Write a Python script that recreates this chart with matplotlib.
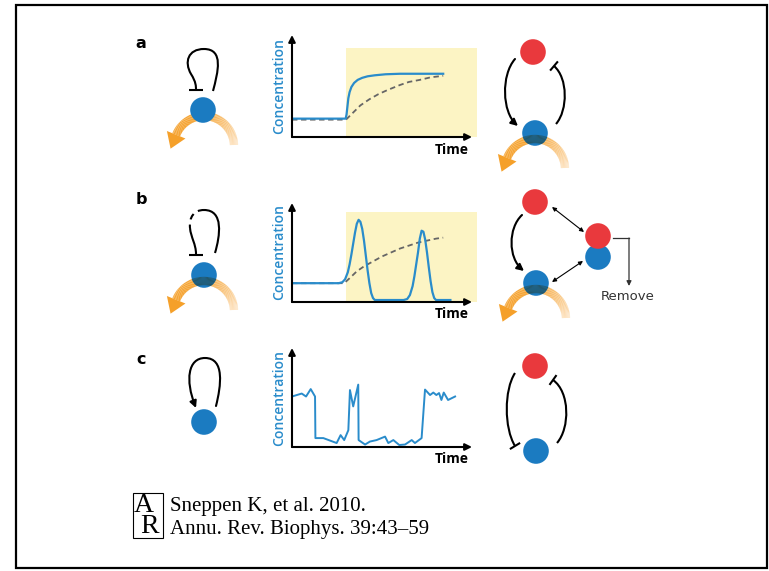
import numpy as np
import matplotlib.pyplot as plt
from matplotlib.patches import Circle, Rectangle, PathPatch, FancyArrowPatch, Polygon
from matplotlib.path import Path
from matplotlib.collections import LineCollection
from matplotlib.colors import to_rgb

W, H = 769, 571

# ---- chart data (time, concentration) ----
# panel a: step response, solid = with negative feedback, dashed = without
a_t = [0, 2.98, 3.03, 3.08, 3.13, 3.2, 3.3, 3.45, 3.65, 3.9, 4.2, 4.6, 5.2, 6.0, 8.4]
a_c = [1.8, 1.8, 2.2, 3.0, 3.8, 4.4, 4.9, 5.3, 5.6, 5.8, 5.95, 6.05, 6.15, 6.2, 6.2]
a_dash_t = [0, 3.0, 3.4, 3.8, 4.3, 4.8, 5.3, 6.0, 6.5, 7.1, 7.7, 8.4]
a_dash_c = [1.7, 1.7, 2.4, 3.1, 3.7, 4.2, 4.6, 5.1, 5.4, 5.6, 5.85, 6.0]

# panel b: pulses
b_t = [0, 2.6, 2.8, 2.95, 3.1, 3.2, 3.3, 3.4, 3.5, 3.6, 3.7, 3.8, 3.9, 4.0, 4.1, 4.2, 4.3, 4.4, 4.5, 4.6,
       6.2, 6.4, 6.55, 6.7, 6.8, 6.9, 7.0, 7.1, 7.2, 7.3, 7.4, 7.5, 7.6, 7.7, 7.8, 7.9, 8.0, 8.8]
b_c = [1.9, 1.9, 2.0, 2.3, 3.0, 3.8, 4.8, 5.9, 7.0, 7.9, 8.3, 8.1, 7.4, 6.2, 4.7, 3.2, 1.9, 0.9, 0.4, 0.2,
       0.2, 0.3, 0.7, 1.6, 2.6, 3.8, 5.0, 6.4, 7.2, 7.1, 6.3, 5.0, 3.5, 2.1, 1.0, 0.4, 0.2, 0.2]
b_dash_t = [0, 2.9, 3.2, 3.6, 4.0, 4.5, 5.0, 5.5, 6.0, 6.5, 7.0, 7.5, 8.0, 8.4]
b_dash_c = [1.9, 1.9, 2.4, 3.1, 3.6, 4.1, 4.6, 5.0, 5.4, 5.7, 6.0, 6.2, 6.4, 6.5]

# panel c: bistable switching
c_t = [0.0, 0.54, 0.78, 1.04, 1.28, 1.3, 1.74, 2.48, 2.7, 2.9, 3.13, 3.22, 3.4, 3.68, 3.7, 4.06, 4.33,
       4.7, 5.17, 5.35, 5.63, 5.96, 6.28, 6.65, 6.83, 7.2, 7.39, 7.67, 7.85, 8.02, 8.17, 8.3, 8.43, 8.67, 9.06]
c_c = [5.1, 5.4, 5.1, 5.85, 5.1, 0.9, 0.9, 0.4, 1.2, 0.7, 1.7, 5.75, 4.1, 6.3, 0.7, 0.25, 0.55,
       0.7, 1.05, 0.4, 0.7, 0.2, 0.25, 0.7, 0.4, 0.9, 5.8, 5.25, 5.5, 5.25, 5.45, 4.75, 5.5, 4.75, 5.1]

shade_start, shade_end = 3.0, 10.3
shade_top = {'a': 8.7, 'b': 9.1}

panel_letters = ['a', 'b', 'c']
ylabel = 'Concentration'
xlabel = 'Time'
citation = ['Sneppen K, et al. 2010.', 'Annu. Rev. Biophys. 39:43\u201359']

BLUE = '#1b7bc1'
RED = '#e9393d'
ORANGE = '#f5a02a'
PALE = '#fde4c4'
DARK = '#23586b'
LBLUE = '#2a8ccb'
YELLOW = '#fcf4c4'

fig = plt.figure(figsize=(W / 100, H / 100), dpi=100)
ax0 = fig.add_axes([0, 0, 1, 1])
ax0.set_xlim(0, W)
ax0.set_ylim(H, 0)
ax0.axis('off')

ax0.add_patch(Rectangle((16, 5), 751, 563, fill=False, lw=1.6, ec='k'))


def bez(*pts):
    codes = [Path.MOVETO] + [Path.CURVE4] * (len(pts) - 1)
    return Path(pts, codes)


def node(x, y, col, r=12.8, z=2):
    c = Circle((x, y), r, fc=col, ec='none', zorder=z)
    ax0.add_patch(c)
    return c


def orange_arc(cx, cy, circle=None, r=30):
    th = np.radians(np.linspace(158, 2, 80))
    x = cx + r * np.cos(th)
    y = cy - r * np.sin(th)
    pts = np.column_stack([x, y])
    segs = np.stack([pts[:-1], pts[1:]], axis=1)
    frac = np.clip((95 - np.degrees(th[:-1])) / 93, 0, 1)
    c0, c1 = np.array(to_rgb(ORANGE)), np.array(to_rgb(PALE))
    cols = c0 + (c1 - c0) * frac[:, None]
    ax0.add_collection(LineCollection(segs, colors=cols, linewidths=6, capstyle='butt', zorder=1))
    d = np.array([-np.sin(th[0]), -np.cos(th[0])])
    n = np.array([d[1], -d[0]])
    p = pts[0]
    ax0.add_patch(Polygon([p + d * 15, p + n * 10, p - n * 10], closed=True, fc=ORANGE, ec='none', zorder=1))
    if circle is not None:
        lc = LineCollection(segs, colors=DARK, linewidths=6, capstyle='butt', zorder=3)
        lc.set_clip_path(circle)
        ax0.add_collection(lc)


def line_path(path, ls='-', lw=1.5):
    ax0.add_patch(PathPatch(path, fill=False, lw=lw, ec='k', ls=ls, zorder=4))


def arrow_path(path, lw=1.5, ms=10):
    ax0.add_patch(FancyArrowPatch(path=path, arrowstyle='-|>', mutation_scale=ms, lw=lw,
                                  color='k', zorder=4))


def bar(p, q, lw=1.5):
    ax0.plot([p[0], q[0]], [p[1], q[1]], color='k', lw=lw, solid_capstyle='butt', zorder=4)


# ---- left diagrams ----
orange_arc(204, 146)
node(203, 110, BLUE)
line_path(bez((213, 91), (218, 72), (224, 49), (204, 49), (188, 49), (184, 62), (191, 74),
              (196, 82), (196, 86), (196, 90)))
bar((189, 90), (203, 90))

cb = node(204, 275, BLUE)
orange_arc(204, 311, cb)
line_path(bez((215, 253), (220, 236), (224, 210), (204, 210)))
line_path(bez((204, 210), (194, 210), (189, 217), (190, 228)), ls=(0, (3, 2.5)))
line_path(bez((190, 228), (191, 238), (196, 244), (196, 254)))
bar((189, 255), (203, 255))

node(204, 422, BLUE)
arrow_path(bez((216, 406), (221, 386), (225, 358), (205, 358), (188, 358), (185, 380), (196, 408)))

# ---- right diagrams ----
node(533, 52, RED)
ca = node(535, 133, BLUE)
orange_arc(535, 169, ca)
arrow_path(bez((515, 59), (501, 75), (502, 112), (518, 126)))
line_path(bez((556, 124), (568, 110), (568, 78), (554, 66)))
bar((550.1, 70.6), (557.9, 61.4))

node(535, 202, RED)
cb2 = node(536, 283, BLUE)
orange_arc(536, 319, cb2)
node(598, 257, BLUE, z=2)
node(598, 236, RED, z=3)
arrow_path(bez((522, 215), (508, 228), (508, 258), (524, 271)))
ax0.add_patch(FancyArrowPatch((552, 207), (584, 232), arrowstyle='<|-|>', mutation_scale=6,
                              lw=0.8, color='k', shrinkA=0, shrinkB=0, zorder=4))
ax0.add_patch(FancyArrowPatch((552, 282), (583, 261), arrowstyle='<|-|>', mutation_scale=6,
                              lw=0.8, color='k', shrinkA=0, shrinkB=0, zorder=4))
ax0.plot([613, 629], [238, 238], color='#333333', lw=0.9)
ax0.add_patch(FancyArrowPatch((629, 238), (629, 286), arrowstyle='-|>', mutation_scale=7,
                              lw=0.9, color='#333333', shrinkA=0, shrinkB=0))
ax0.text(628, 296, 'Remove', ha='center', va='center', fontsize=9.5, color='#333333')

node(535, 366, RED)
node(536, 451, BLUE)
line_path(bez((515, 373), (504, 390), (504, 428), (515, 446)))
bar((509.9, 449.1), (520.1, 442.9))
line_path(bez((557, 443), (570, 428), (570, 392), (553, 380)))
bar((549.5, 384.9), (556.5, 375.1))

# ---- panel letters ----
for lab, yy in zip(panel_letters, [44, 199, 359]):
    ax0.text(141, yy, lab, ha='center', va='center', fontsize=11.5, fontweight='bold')

# ---- citation ----
ax0.add_patch(Rectangle((133, 493), 30, 45, fill=False, lw=0.8, ec='k'))
ax0.text(147, 516, 'A\n R', family='Liberation Serif', fontsize=20, ha='center', va='center',
         multialignment='left', linespacing=0.8)
ax0.text(170, 511, citation[0], family='Liberation Serif', fontsize=15, va='baseline')
ax0.text(170, 534, citation[1], family='Liberation Serif', fontsize=15, va='baseline')


# ---- charts ----
def chart(bottom, top, left=292, right=472):
    ax = fig.add_axes([left / W, 1 - bottom / H, (right - left) / W, (bottom - top) / H])
    ax.set_xlim(0, 10)
    ax.set_ylim(0, 10)
    ax.axis('off')
    ap = dict(arrowstyle='-|>', lw=1.5, color='k', mutation_scale=10, shrinkA=0, shrinkB=0)
    ax.annotate('', xy=(1, 0), xytext=(0, 0), xycoords='axes fraction', arrowprops=ap, zorder=5)
    ax.annotate('', xy=(0, 1), xytext=(0, 0), xycoords='axes fraction', arrowprops=ap, zorder=5)
    ax.text(-0.07, 0.5, ylabel, transform=ax.transAxes, rotation=90, ha='center', va='center',
            color=LBLUE, fontsize=10, fontweight='semibold', family='Open Sans')
    ax.text(0.89, -0.125, xlabel, transform=ax.transAxes, ha='center', va='center',
            fontsize=10, fontweight='bold', family='Open Sans')
    return ax


axa = chart(137, 35)
axa.add_patch(Rectangle((shade_start, 0), shade_end - shade_start, shade_top['a'], fc=YELLOW,
                        ec='none', clip_on=False, zorder=0))
axa.plot(a_dash_t, a_dash_c, color='#666666', lw=1.3, ls=(0, (3, 2)), zorder=2)
axa.plot(a_t, a_c, color=LBLUE, lw=1.6, zorder=3)

axb = chart(302, 203)
axb.add_patch(Rectangle((shade_start, 0), shade_end - shade_start, shade_top['b'], fc=YELLOW,
                        ec='none', clip_on=False, zorder=0))
axb.plot(b_dash_t, b_dash_c, color='#666666', lw=1.3, ls=(0, (3, 2)), zorder=2)
axb.plot(b_t, b_c, color=LBLUE, lw=1.6, zorder=3)

axc = chart(447, 348)
axc.plot(c_t, c_c, color=LBLUE, lw=1.4, zorder=3)

fig.savefig('out.png', dpi=100)
